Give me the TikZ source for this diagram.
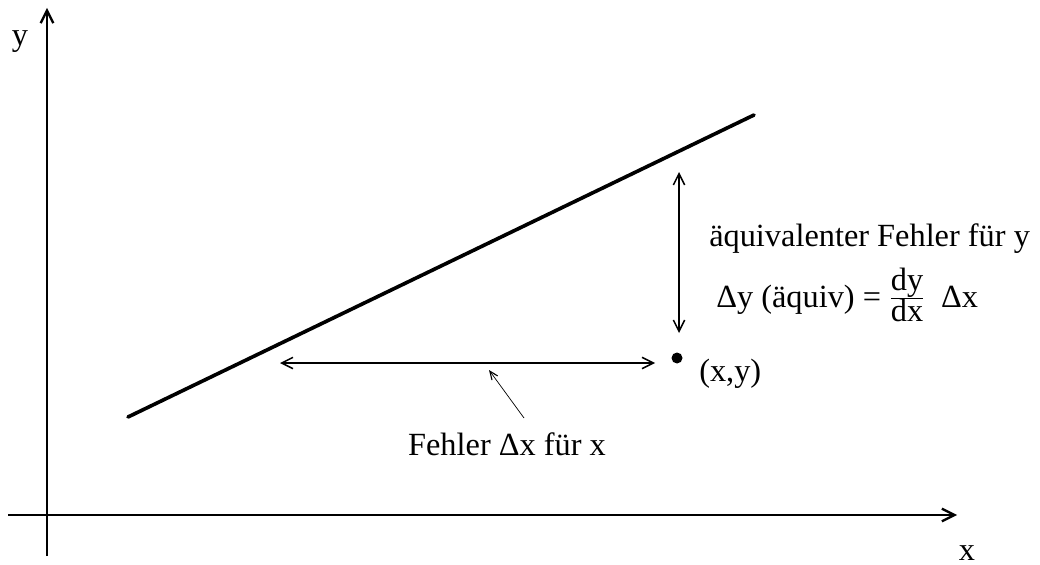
\documentclass[tikz,border=0pt]{standalone}
\usepackage{fontspec}
\setmainfont{Liberation Serif}
\usetikzlibrary{arrows.meta}
\begin{document}
\begin{tikzpicture}[x=0.025cm,y=-0.025cm,
  axis/.style={line width=2.1pt,-{Straight Barb[length=9pt,width=9pt,line width=1.6pt]}},
  graphline/.style={line width=2.6pt,line cap=round},
  errarrow/.style={line width=1.1pt,{Straight Barb[length=8pt,width=8pt,line width=1.1pt]}-{Straight Barb[length=8pt,width=8pt,line width=1.1pt]}},
  pointer/.style={line width=0.5pt,-{Straight Barb[length=6pt,width=5pt,line width=0.8pt]}},
  lbl/.style={inner sep=0pt,font=\fontsize{23}{28}\selectfont}]
\useasboundingbox (0,0) rectangle (1040,565);
% axes
\coordinate (ybot) at (47,556);
\coordinate (ytop) at (47,8);
\coordinate (xl) at (8,515);
\coordinate (xr) at (957,515);
\draw[axis] (ybot) -- (ytop);
\draw[axis] (xl) -- (xr);
\node[lbl,anchor=base] (ylab) at (20,46) {y};
\node[lbl,anchor=base] (xlab) at (967,560) {x};
% graph line
\coordinate (la) at (128,417);
\coordinate (lb) at (754,115);
\draw[graphline] (la) -- (lb);
% point
\coordinate (pt) at (677,358);
\fill (pt) circle (5.5);
\node[lbl,anchor=base west] (ptlab) at (699,381) {(x,y)};
% error arrows
\coordinate (vt) at (679,172);
\coordinate (vb) at (679,333);
\draw[errarrow] (vt) -- (vb);
\coordinate (hl) at (280,363);
\coordinate (hr) at (655,363);
\draw[errarrow] (hl) -- (hr);
% labels
\node[lbl,anchor=base west] (eq1) at (709,246) {äquivalenter Fehler für y};
\node[lbl,anchor=base west] (eq2) at (716,307) {Δy (äquiv) = $\frac{\hbox{dy}}{\hbox{dx}}$\ \ Δx};
\node[lbl,anchor=base] (fx) at (507,455) {Fehler Δx für x};
\coordinate (ptail) at (524,418);
\coordinate (phead) at (489,370);
\draw[pointer] (ptail) -- (phead);
\end{tikzpicture}
\end{document}
